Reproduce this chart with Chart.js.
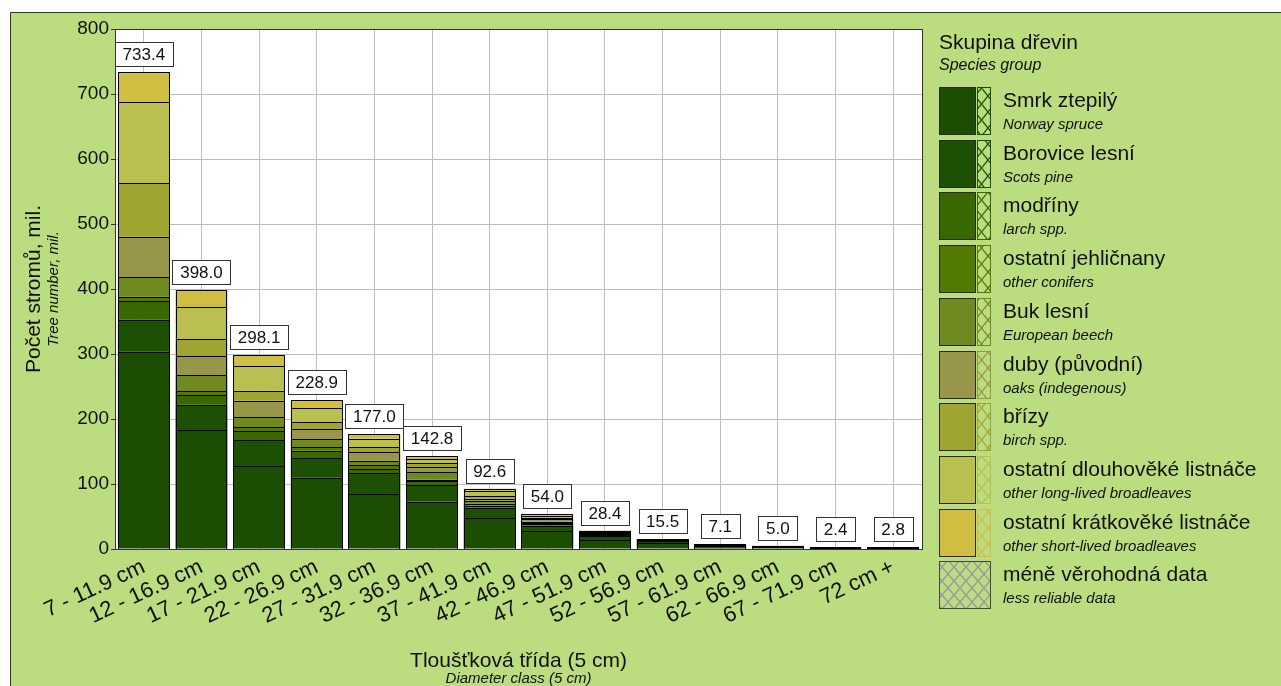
<!DOCTYPE html>
<html><head><meta charset="utf-8">
<script src="https://cdn.jsdelivr.net/npm/chart.js@4.4.1/dist/chart.umd.min.js"></script>
<style>html,body{margin:0;padding:0;background:#fff;overflow:hidden}#wrap{position:relative;width:1281px;height:686px}</style>
</head><body><div id="wrap"><canvas id="c" width="1281" height="686"></canvas></div>
<script>
const categories = ['7 - 11.9 cm','12 - 16.9 cm','17 - 21.9 cm','22 - 26.9 cm','27 - 31.9 cm','32 - 36.9 cm','37 - 41.9 cm','42 - 46.9 cm','47 - 51.9 cm','52 - 56.9 cm','57 - 61.9 cm','62 - 66.9 cm','67 - 71.9 cm','72 cm +'];
const totals = [733.4, 398.0, 298.1, 228.9, 177.0, 142.8, 92.6, 54.0, 28.4, 15.5, 7.1, 5.0, 2.4, 2.8];
const yTicks = [0, 100, 200, 300, 400, 500, 600, 700, 800];

const smrk       = [303.6, 183.1, 127.7, 109.7, 84.0, 72.9, 47.1, 27.5, 13.9, 9.0, 4.5, 3.2, 1.5, 1.8];
const borovice   = [49.2, 39.0, 39.5, 30.3, 32.5, 25.0, 16.2, 8.2, 5.5, 3.5, 1.5, 1.0, 0.5, 0.5];
const modriny    = [28.2, 14.3, 13.8, 11.3, 6.5, 6.4, 3.5, 3.5, 2.2, 1.2, 0.5, 0.4, 0.2, 0.2];
const jehlicnany = [7.2, 6.7, 6.7, 5.1, 5.5, 2.5, 3.0, 1.5, 0.8, 0.3, 0.1, 0.1, 0, 0];
const buk        = [29.7, 24.6, 14.9, 12.8, 7.5, 11.0, 3.6, 1.6, 1.0, 0.4, 0.2, 0.1, 0.1, 0.1];
const duby       = [62.6, 28.7, 25.6, 14.9, 12.5, 8.0, 4.0, 3.5, 1.2, 0.5, 0.2, 0.2, 0.1, 0.2];
const brizy      = [82.6, 26.2, 15.4, 10.8, 8.5, 6.0, 3.6, 2.0, 0.8, 0.2, 0, 0, 0, 0];
const dlouhoveke = [124.1, 49.7, 37.4, 22.0, 12.5, 6.0, 7.6, 3.5, 1.5, 0.2, 0.05, 0, 0, 0];
const kratkoveke = [46.2, 25.7, 17.1, 12.0, 7.5, 5.0, 4.0, 2.7, 1.5, 0.2, 0.05, 0, 0, 0];

const seriesNamesCz = ['Smrk ztepilý','Borovice lesní','modříny','ostatní jehličnany','Buk lesní','duby (původní)','břízy','ostatní dlouhověké listnáče','ostatní krátkověké listnáče'];
const seriesNamesEn = ['Norway spruce','Scots pine','larch spp.','other conifers','European beech','oaks (indegenous)','birch spp.','other long-lived broadleaves','other short-lived broadleaves'];
const seriesColors = ['#1b4d02','#1c5003','#3a6800','#527a03','#6e8a21','#989648','#a0a532','#b9c050','#d0be42'];
const seriesData = [smrk, borovice, modriny, jehlicnany, buk, duby, brizy, dlouhoveke, kratkoveke];

const FONT = '"Liberation Sans", Arial, sans-serif';
const BG = '#bbdc7f';
Chart.defaults.font.family = FONT;

function hatch(ctx, color, w, h) {
  const c = document.createElement('canvas');
  c.width = w; c.height = h;
  const g = c.getContext('2d');
  g.strokeStyle = color; g.lineWidth = 1.2;
  g.beginPath();
  g.moveTo(0, 0); g.lineTo(w, h);
  g.moveTo(w, 0); g.lineTo(0, h);
  g.stroke();
  return ctx.createPattern(c, 'repeat');
}

const framePlugin = {
  id: 'frame',
  beforeDraw(chart) {
    const ctx = chart.ctx, W = chart.width, H = chart.height, a = chart.chartArea;
    ctx.save();
    ctx.fillStyle = '#fff'; ctx.fillRect(0, 0, W, H);
    ctx.fillStyle = BG; ctx.fillRect(10, 12, W, H);
    ctx.strokeStyle = '#333'; ctx.lineWidth = 1;
    ctx.beginPath(); ctx.moveTo(10.5, H); ctx.lineTo(10.5, 12.5); ctx.lineTo(W, 12.5); ctx.stroke();
    ctx.fillStyle = '#fff'; ctx.fillRect(a.left, a.top, a.right - a.left, a.bottom - a.top);
    ctx.restore();
  },
  beforeDatasetsDraw(chart) {
    const ctx = chart.ctx, a = chart.chartArea;
    ctx.save();
    ctx.strokeStyle = '#333'; ctx.lineWidth = 1;
    ctx.strokeRect(Math.round(a.left) + 0.5, Math.round(a.top) + 0.5, Math.round(a.right - a.left), Math.round(a.bottom - a.top));
    ctx.restore();
  },
  afterDatasetsDraw(chart) {
    const ctx = chart.ctx, xs = chart.scales.x, ys = chart.scales.y;
    ctx.save();
    const n = chart.data.datasets.length;
    ctx.strokeStyle = '#000'; ctx.lineWidth = 1;
    for (let i = 0; i < categories.length; i++) {
      const first = chart.getDatasetMeta(0).data[i];
      const left = Math.round(first.x - first.width / 2) + 0.5;
      const right = Math.round(first.x + first.width / 2) - 0.5;
      const base = Math.round(first.base);
      let topY = base;
      for (let d = 0; d < n; d++) {
        const el = chart.getDatasetMeta(d).data[i];
        if (!el || chart.data.datasets[d].data[i] <= 0) continue;
        const y = Math.round(el.y) + 0.5;
        ctx.beginPath(); ctx.moveTo(left, y); ctx.lineTo(right, y); ctx.stroke();
        topY = Math.min(topY, Math.round(el.y));
      }
      ctx.beginPath();
      ctx.moveTo(left, base); ctx.lineTo(left, topY + 0.5); ctx.lineTo(right, topY + 0.5); ctx.lineTo(right, base);
      ctx.stroke();
    }
    ctx.font = '17px ' + FONT;
    ctx.textAlign = 'center'; ctx.textBaseline = 'middle';
    totals.forEach((t, i) => {
      const txt = t.toFixed(1);
      const x = xs.getPixelForValue(i);
      const y = ys.getPixelForValue(t);
      const w = Math.round(ctx.measureText(txt).width + 15);
      const h = 24;
      const bx = Math.round(x - w / 2) + 0.5, by = Math.round(y - 6 - h) + 0.5;
      ctx.fillStyle = '#fff'; ctx.fillRect(bx, by, w, h);
      ctx.strokeStyle = '#333'; ctx.lineWidth = 1; ctx.strokeRect(bx, by, w, h);
      ctx.fillStyle = '#111'; ctx.fillText(txt, x, by + h / 2 + 1);
    });
    ctx.restore();
  },
  afterDraw(chart) {
    const ctx = chart.ctx, a = chart.chartArea;
    ctx.save();
    ctx.fillStyle = '#111';
    const cx = (a.left + a.right) / 2;
    ctx.textAlign = 'center'; ctx.textBaseline = 'alphabetic';
    ctx.font = '21px ' + FONT; ctx.fillText('Tloušťková třída (5 cm)', cx, 667);
    ctx.font = 'italic 15px ' + FONT; ctx.fillText('Diameter class (5 cm)', cx, 683);
    const cy = (a.top + a.bottom) / 2;
    ctx.save(); ctx.translate(40, cy); ctx.rotate(-Math.PI / 2);
    ctx.font = '21px ' + FONT; ctx.fillText('Počet stromů, mil.', 0, 0);
    ctx.restore();
    ctx.save(); ctx.translate(58, cy); ctx.rotate(-Math.PI / 2);
    ctx.font = 'italic 15px ' + FONT; ctx.fillText('Tree number, mil.', 0, 0);
    ctx.restore();
    const LX = 939, TX = 1003;
    ctx.textAlign = 'left';
    ctx.font = '21px ' + FONT; ctx.fillText('Skupina dřevin', LX, 49);
    ctx.font = 'italic 16px ' + FONT; ctx.fillText('Species group', LX, 70);
    const step = 52.7, h = 47;
    for (let i = 0; i < 10; i++) {
      const top = Math.round(87 + i * step);
      if (i < 9) {
        ctx.fillStyle = seriesColors[i];
        ctx.fillRect(LX, top, 36, h);
        ctx.strokeStyle = '#2a2a2a'; ctx.lineWidth = 1;
        ctx.strokeRect(LX + 0.5, top + 0.5, 36, h);
        ctx.fillStyle = hatch(ctx, seriesColors[i], 13, 16);
        ctx.fillRect(977, top, 13, h);
        ctx.strokeStyle = seriesColors[i];
        ctx.strokeRect(977.5, top + 0.5, 13, h);
      } else {
        ctx.fillStyle = hatch(ctx, '#9494a8', 12, 14);
        ctx.fillRect(LX, top, 52, h);
        ctx.strokeStyle = '#444'; ctx.lineWidth = 1;
        ctx.strokeRect(LX + 0.5, top + 0.5, 51, h);
      }
      ctx.fillStyle = '#111';
      ctx.font = '21px ' + FONT;
      ctx.fillText(i < 9 ? seriesNamesCz[i] : 'méně věrohodná data', TX, top + 20);
      ctx.font = 'italic 15px ' + FONT;
      ctx.fillText(i < 9 ? seriesNamesEn[i] : 'less reliable data', TX, top + 42);
    }
    ctx.restore();
  }
};

new Chart(document.getElementById('c'), {
  type: 'bar',
  data: {
    labels: categories,
    datasets: seriesData.map((d, i) => ({
      label: seriesNamesCz[i],
      data: d,
      backgroundColor: seriesColors[i],
      borderWidth: 0,
      barPercentage: 0.9,
      categoryPercentage: 1.0
    }))
  },
  options: {
    responsive: false,
    animation: false,
    layout: { padding: { left: 0, top: 29, right: 359, bottom: 0 } },
    plugins: { legend: { display: false }, tooltip: { enabled: false } },
    scales: {
      x: {
        stacked: true,
        offset: true,
        grid: { offset: false, color: '#bdbdbd', drawTicks: false },
        border: { color: '#333' },
        ticks: { color: '#111', font: { size: 22 }, minRotation: 25, maxRotation: 25, autoSkip: false, padding: 5 },
        afterFit(s) { s.height = 137; }
      },
      y: {
        stacked: true,
        min: 0, max: 800,
        afterBuildTicks(s) { s.ticks = yTicks.map(v => ({ value: v })); },
        grid: { color: '#bdbdbd', tickLength: 4, tickColor: '#333' },
        border: { color: '#333' },
        ticks: { color: '#111', font: { size: 19 }, padding: 2 },
        afterFit(s) { s.width = 115; }
      }
    }
  },
  plugins: [framePlugin]
});
</script>
</body></html>
